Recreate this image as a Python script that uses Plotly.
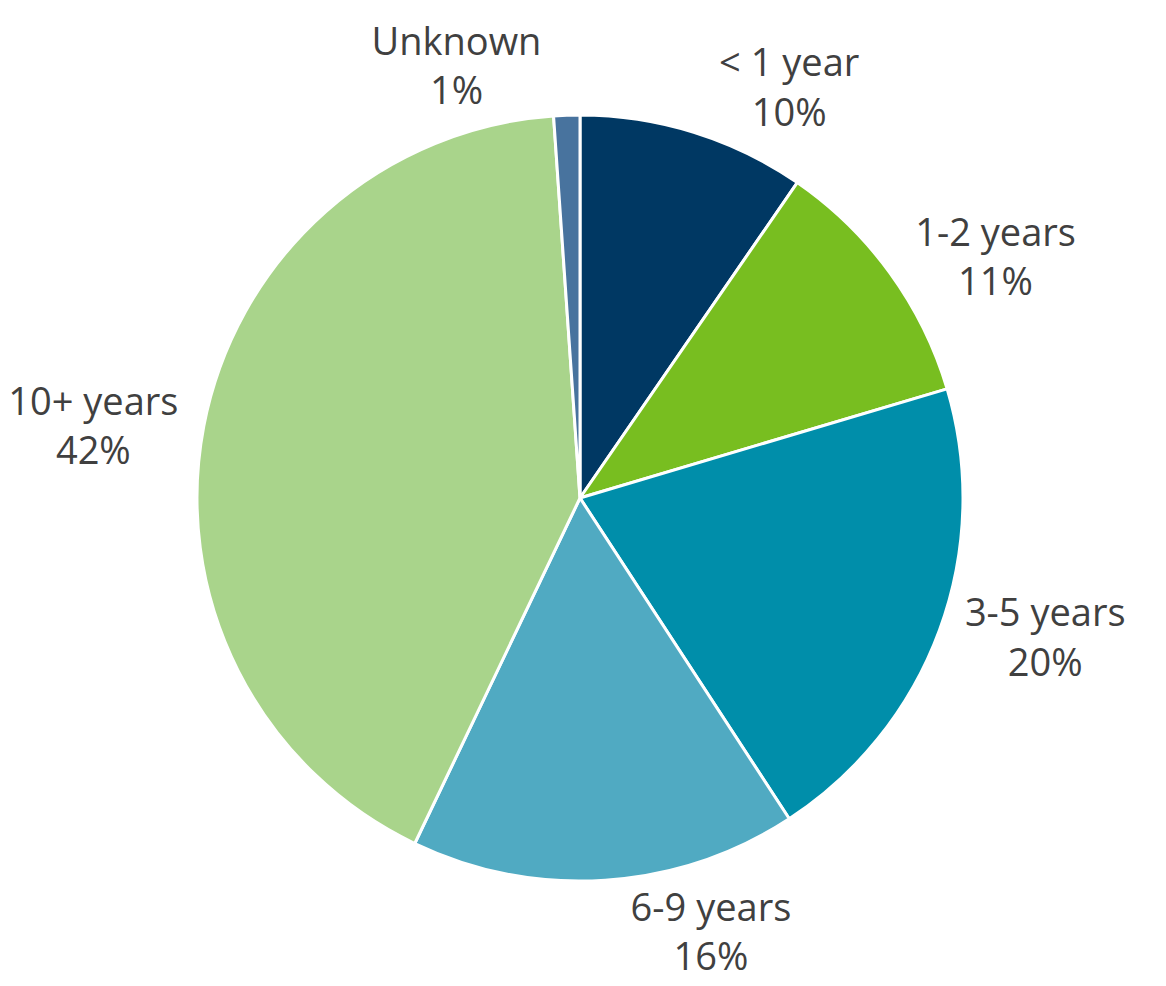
import plotly.graph_objects as go

labels = ["< 1 year", "1-2 years", "3-5 years", "6-9 years", "10+ years", "Unknown"]
values = [9.6, 10.8, 20.4, 16.3, 41.8, 1.1]
colors = ["#003863", "#78BE20", "#008EAA", "#50AAC2", "#A9D48B", "#48739E"]

fig = go.Figure(go.Pie(
    labels=labels,
    values=values,
    sort=False,
    direction="clockwise",
    rotation=0,
    marker=dict(colors=colors, line=dict(color="white", width=3)),
    textposition="outside",
    texttemplate="%{label}<br>%{percent:.0%}",
    textfont=dict(family="Open Sans", size=38, color="#404040"),
    automargin=False,
    showlegend=False,
    hoverinfo="label+percent",
))

fig.update_layout(
    width=1166,
    height=986,
    margin=dict(l=0, r=22, t=107, b=113),
    paper_bgcolor="white",
    plot_bgcolor="white",
)

fig.write_html("out.html")
